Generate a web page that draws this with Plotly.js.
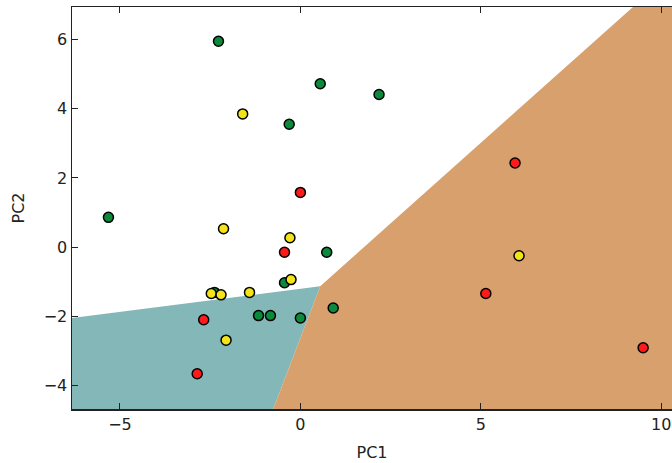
<!DOCTYPE html>
<html>
<head>
<meta charset="utf-8">
<script src="https://cdn.plot.ly/plotly-3.0.1.min.js"></script>
<style>html,body{margin:0;padding:0;background:#fff;}#chart{width:672px;height:463px;}</style>
</head>
<body>
<div id="chart"></div>
<script>
// Decision-region polygons (data coordinates)
const tealRegionX = [-7.0, 0.55, -0.87, -7.0];
const tealRegionY = [-2.14, -1.13, -5.0, -5.0];
const orangeRegionX = [-0.87, 0.55, 9.82, 11.0, 11.0];
const orangeRegionY = [-5.0, -1.13, 7.5, 7.5, -5.0];

// Points by class
const greenX = [-2.27, 0.55, -0.31, 2.18, -5.32, 0.73, -0.44, -2.38, 0.91, -1.16, -0.83, 0.0];
const greenY = [5.95, 4.72, 3.55, 4.41, 0.86, -0.15, -1.03, -1.31, -1.76, -1.98, -1.98, -2.05];
const yellowX = [-1.60, -2.13, -0.29, -0.26, -2.47, -2.20, -1.41, -2.06, 6.06];
const yellowY = [3.85, 0.53, 0.27, -0.94, -1.34, -1.38, -1.31, -2.69, -0.25];
const redX = [0.0, 5.95, -0.44, -2.68, -2.86, 5.14, 9.50];
const redY = [1.58, 2.43, -0.15, -2.10, -3.66, -1.34, -2.91];

const xTicks = [-5, 0, 5, 10];
const yTicks = [-4, -2, 0, 2, 4, 6];

function pts(x, y, color) {
  return {x: x, y: y, type: 'scatter', mode: 'markers', hoverinfo: 'skip',
    marker: {color: color, size: 10, line: {color: '#000', width: 1.5}}};
}
function region(x, y, color) {
  return {x: x, y: y, type: 'scatter', mode: 'lines', fill: 'toself',
    fillcolor: color, line: {width: 0, color: color}, hoverinfo: 'skip'};
}

const data = [
  region(tealRegionX, tealRegionY, '#84b7b8'),
  region(orangeRegionX, orangeRegionY, '#d8a06c'),
  pts(greenX, greenY, '#0b8a3c'),
  pts(yellowX, yellowY, '#f2e418'),
  pts(redX, redY, '#ff1a1a')
];

const font = {family: 'DejaVu Sans', size: 16, color: '#222'};
const layout = {
  width: 672, height: 463,
  margin: {l: 72, r: 0, t: 7, b: 54},
  paper_bgcolor: '#fff', plot_bgcolor: '#fff',
  showlegend: false,
  font: font,
  xaxis: {
    range: [-6.33, 10.3], tickvals: xTicks, ticktext: xTicks.map(v => v < 0 ? '\u2212' + Math.abs(v) : String(v)),
    ticks: 'inside', ticklen: 6, tickwidth: 1, tickcolor: '#222',
    showline: true, linecolor: '#222', linewidth: 1.5, mirror: 'ticks',
    showgrid: false, zeroline: false,
    title: {text: 'PC1', font: font, standoff: 14},
    tickfont: font
  },
  yaxis: {
    range: [-4.68, 6.94], tickvals: yTicks, ticktext: yTicks.map(v => v < 0 ? '\u2212' + Math.abs(v) : String(v)),
    ticks: 'inside', ticklen: 6, tickwidth: 1, tickcolor: '#222',
    showline: true, linecolor: '#222', linewidth: 1.5, mirror: false,
    showgrid: false, zeroline: false,
    title: {text: 'PC2', font: font, standoff: 15},
    tickfont: font
  }
};

Plotly.newPlot('chart', data, layout, {displayModeBar: false, staticPlot: true});
</script>
</body>
</html>
